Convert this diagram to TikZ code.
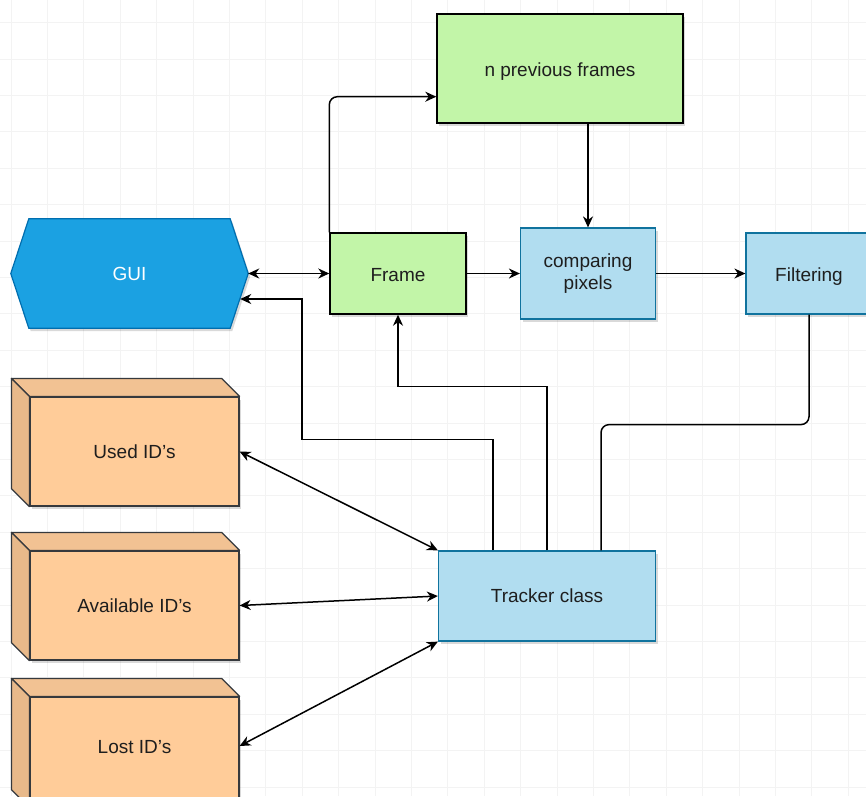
\documentclass[tikz,border=0pt]{standalone}
\usepackage{fontspec}
\setmainfont{Liberation Sans}
\usetikzlibrary{arrows.meta,shadows,calc,backgrounds}
\definecolor{grn}{HTML}{C2F5A8}
\definecolor{lblue}{HTML}{B1DDF0}
\definecolor{lblueline}{HTML}{10739E}
\definecolor{guiblue}{HTML}{1BA1E2}
\definecolor{guiline}{HTML}{006EAF}
\definecolor{orfront}{HTML}{FFCC99}
\definecolor{ortop}{HTML}{F2C293}
\definecolor{orside}{HTML}{E8B98A}
\definecolor{orline}{HTML}{36393D}
\definecolor{gridc}{HTML}{F3F3F3}
\definecolor{txt}{HTML}{1E1E1E}
\begin{document}
\begin{tikzpicture}[x=1pt,y=-1pt,
  font=\fontsize{19}{22}\selectfont,
  shad/.style={drop shadow={shadow xshift=2pt,shadow yshift=-3pt,opacity=0.15,fill=black}},
  greenbox/.style={draw=black,line width=1.4pt,fill=grn,shad,inner sep=0pt,text=txt},
  bluebox/.style={draw=lblueline,line width=1.2pt,fill=lblue,shad,inner sep=0pt,align=center,text=txt},
  cubefront/.style={draw=orline,line width=1.2pt,fill=orfront,shad,inner sep=0pt,text=txt,minimum width=209,minimum height=109},
  tb/.style={text height=15pt,text depth=0pt},
  conn/.style={line width=1.5pt,draw=black},
  tipa/.style={-{Stealth[length=11pt,width=10pt,inset=3.5pt]}},
  tipb/.style={{Stealth[length=11pt,width=10pt,inset=3.5pt]}-{Stealth[length=11pt,width=10pt,inset=3.5pt]}}
]
\useasboundingbox (0,0) rectangle (866,796);
\begin{scope}[on background layer]
  \fill[white] (0,0) rectangle (866,796);
  \foreach \k in {0,...,23} \draw[gridc,line width=0.8pt] (11+36.4*\k,0) -- (11+36.4*\k,796);
  \foreach \k in {0,...,21} \draw[gridc,line width=0.8pt] (0,22.6+36.4*\k) -- (866,22.6+36.4*\k);
\end{scope}
\clip (0,0) rectangle (866,796);

% nodes
\node[greenbox,tb,minimum width=246,minimum height=109] (nprev) at (560,68.5) {n previous frames};
\node[greenbox,tb,minimum width=136,minimum height=81] (frame) at (398,273.5) {Frame};
\node[bluebox,minimum width=135,minimum height=91] (comp) at (588,273.5) {comparing\\pixels};
\node[bluebox,tb,minimum width=126,minimum height=81] (filt) at (809,273.5) {Filtering};
\node[bluebox,minimum width=217,minimum height=90] (tracker) at (547,596) {Tracker class};
\node[minimum width=237,minimum height=109,inner sep=0pt,text=white] (GUI) at (129.5,273.5) {GUI};
\begin{scope}[on background layer]
  \fill[black,opacity=0.15] ($(GUI.west)+(2,3)$) -- ($(GUI.north west)+(20,3)$) -- ($(GUI.north east)+(-16,3)$) -- ($(GUI.east)+(2,3)$) -- ($(GUI.south east)+(-16,3)$) -- ($(GUI.south west)+(20,3)$) -- cycle;
  \draw[guiline,line width=1.2pt,fill=guiblue] (GUI.west) -- ($(GUI.north west)+(18,0)$) -- ($(GUI.north east)+(-18,0)$) -- (GUI.east) -- ($(GUI.south east)+(-18,0)$) -- ($(GUI.south west)+(18,0)$) -- cycle;
\end{scope}

\node[cubefront] (used) at (134.5,451.5) {Used ID's};
\node[cubefront] (avail) at (134.5,605.5) {Available ID's};
\node[cubefront,minimum height=110,text depth=11pt] (lost) at (134.5,752) {Lost ID's};
\foreach \n in {used,avail,lost}{
  \draw[orline,line width=1.2pt,fill=ortop,line join=round] (\n.north west) -- ++(-18,-18) -- ($(\n.north east)+(-18,-18)$) -- (\n.north east) -- cycle;
  \draw[orline,line width=1.2pt,fill=orside,line join=round] (\n.north west) -- ++(-18,-18) -- ($(\n.south west)+(-18,-18)$) -- (\n.south west) -- cycle;
}

\coordinate (guiin) at ($(GUI.east)+(-8,25.5)$);
\coordinate (lostin) at ($(lost.east)+(0,-6)$);

% connectors
\draw[conn,tipb] (GUI.east) -- (frame.west);
\draw[conn,tipa,rounded corners=8pt] (frame.north west) |- ($(nprev.south west)+(0,-27)$);
\draw[conn,tipa] (comp.north |- nprev.south) -- (comp.north);
\draw[conn,tipa] (frame.east) -- (comp.west);
\draw[conn,tipa] (comp.east) -- (filt.west);
\draw[conn,rounded corners=8pt] (filt.south) -- ++(0,110) -| ($(tracker.north)+(54,0)$);
\draw[conn,tipa] (tracker.north) -- ++(0,-164) -| (frame.south);
\draw[conn,tipa] ($(tracker.north)+(-54,0)$) -- ++(0,-111) -- ++(-191,0) |- (guiin);
\draw[conn,tipb] (used.east) -- (tracker.north west);
\draw[conn,tipb] (avail.east) -- (tracker.west);
\draw[conn,tipb] (lostin) -- (tracker.south west);
\end{tikzpicture}
\end{document}
